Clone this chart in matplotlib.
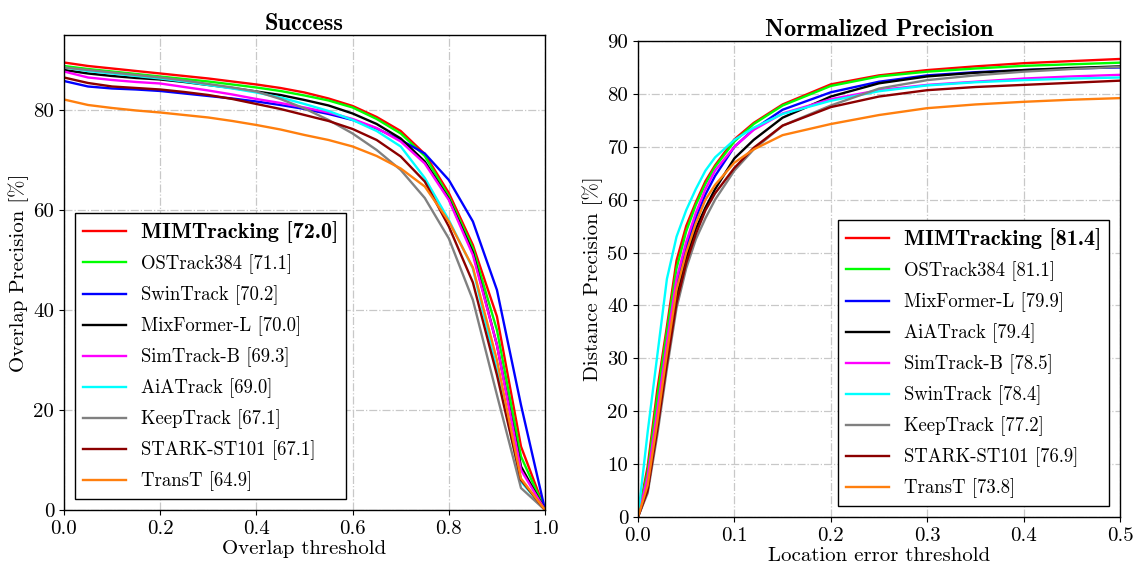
import matplotlib
matplotlib.use("Agg")
import matplotlib.pyplot as plt
import numpy as np

plt.rcParams['font.family'] = ['cmr10', 'DejaVu Serif']
plt.rcParams['axes.unicode_minus'] = False
plt.rcParams['mathtext.fontset'] = 'cm'

# ---- Success (overlap threshold) ----
thr = [0.0, 0.05, 0.1, 0.15, 0.2, 0.25, 0.3, 0.35, 0.4, 0.45, 0.5,
       0.55, 0.6, 0.65, 0.7, 0.75, 0.8, 0.85, 0.9, 0.95, 1.0]

suc_names = ['MIMTracking [72.0]', 'OSTrack384 [71.1]', 'SwinTrack [70.2]',
             'MixFormer-L [70.0]', 'SimTrack-B [69.3]', 'AiATrack [69.0]',
             'KeepTrack [67.1]', 'STARK-ST101 [67.1]', 'TransT [64.9]']
suc_colors = ['red', '#00ff00', 'blue', 'black', 'magenta', 'cyan',
              'gray', '#8b0000', '#ff7f0e']

suc_mim = [89.5, 88.8, 88.3, 87.8, 87.3, 86.8, 86.3, 85.7, 85.1, 84.4, 83.5,
           82.3, 80.8, 78.6, 75.8, 71.2, 63.4, 53.0, 38.7, 12.7, 0]
suc_ostrack = [88.8, 88.2, 87.7, 87.2, 86.7, 86.2, 85.7, 85.1, 84.5, 83.8, 82.9,
               81.9, 80.5, 78.2, 75.3, 70.8, 62.7, 52.3, 36.0, 10.7, 0]
suc_swin = [85.8, 84.7, 84.3, 84.1, 83.8, 83.3, 82.8, 82.3, 81.7, 81.0, 80.2,
            79.2, 78.0, 76.3, 74.0, 71.3, 66.0, 57.7, 44.0, 21.0, 0]
suc_mixformer = [88.0, 87.3, 86.8, 86.4, 86.1, 85.6, 85.0, 84.4, 83.7, 83.0, 82.0,
                 80.9, 79.3, 77.2, 74.3, 69.7, 62.2, 51.5, 33.0, 8.7, 0]
suc_simtrack = [87.7, 86.5, 86.0, 85.6, 85.3, 84.6, 83.9, 83.1, 82.2, 81.4, 80.5,
                79.5, 78.2, 76.4, 73.7, 69.3, 62.0, 51.0, 33.0, 8.0, 0]
suc_aia = [88.5, 87.8, 87.3, 86.8, 86.3, 85.7, 85.0, 84.3, 83.5, 82.5, 81.2,
           79.8, 78.0, 75.8, 72.7, 66.4, 58.0, 48.3, 28.0, 5.7, 0]
suc_keep = [88.5, 88.0, 87.5, 87.0, 86.5, 85.9, 85.2, 84.5, 83.7, 82.2, 80.3,
            78.0, 75.3, 72.0, 68.0, 62.4, 54.3, 42.0, 23.0, 4.4, 0]
suc_stark = [86.5, 85.4, 84.7, 84.4, 84.1, 83.6, 83.0, 82.2, 81.2, 80.2, 79.0,
             77.8, 76.2, 74.0, 70.7, 65.7, 56.7, 45.5, 27.0, 6.0, 0]
suc_transt = [82.1, 81.0, 80.4, 79.9, 79.5, 79.0, 78.5, 77.8, 77.0, 76.1, 75.0,
              74.0, 72.7, 70.8, 68.3, 64.7, 57.7, 48.5, 30.0, 6.3, 0]
suc_vals = [suc_mim, suc_ostrack, suc_swin, suc_mixformer, suc_simtrack,
            suc_aia, suc_keep, suc_stark, suc_transt]

# ---- Normalized precision (location error threshold) ----
err = [0.0, 0.01, 0.02, 0.03, 0.04, 0.05, 0.06, 0.07, 0.08, 0.1, 0.12,
       0.15, 0.2, 0.25, 0.3, 0.35, 0.4, 0.45, 0.5]

np_names = ['MIMTracking [81.4]', 'OSTrack384 [81.1]', 'MixFormer-L [79.9]',
            'AiATrack [79.4]', 'SimTrack-B [78.5]', 'SwinTrack [78.4]',
            'KeepTrack [77.2]', 'STARK-ST101 [76.9]', 'TransT [73.8]']
np_colors = ['red', '#00ff00', 'blue', 'black', 'magenta', 'cyan',
             'gray', '#8b0000', '#ff7f0e']

np_mim = [0, 9.5, 24.0, 36.0, 48.5, 55.0, 59.5, 63.5, 66.5, 71.4, 74.5,
          78.0, 81.8, 83.5, 84.5, 85.2, 85.8, 86.2, 86.6]
np_ostrack = [0, 8.5, 22.5, 35.0, 47.0, 54.0, 59.0, 63.0, 66.2, 71.0, 74.3,
              77.8, 81.5, 83.3, 84.2, 84.8, 85.3, 85.6, 85.9]
np_mixformer = [0, 7.0, 19.0, 32.5, 44.0, 51.0, 56.5, 61.0, 64.5, 70.0, 73.3,
                77.0, 80.3, 82.3, 83.5, 84.1, 84.5, 84.8, 85.0]
np_aia = [0, 5.0, 17.0, 30.0, 41.5, 49.0, 54.5, 58.5, 62.0, 67.8, 71.3,
          75.5, 79.5, 82.0, 83.3, 84.0, 84.5, 84.9, 85.2]
np_simtrack = [0, 7.5, 20.0, 33.0, 45.0, 52.0, 57.5, 62.0, 65.5, 70.0, 73.2,
               76.3, 79.0, 80.7, 81.7, 82.3, 82.9, 83.3, 83.6]
np_swin = [0, 16.0, 30.5, 45.0, 53.0, 58.0, 62.0, 65.5, 68.0, 71.3, 73.6,
           76.2, 78.7, 80.5, 81.6, 82.2, 82.6, 82.9, 83.1]
np_keep = [0, 4.5, 15.5, 28.0, 39.5, 47.0, 52.5, 56.5, 60.0, 65.5, 69.5,
           74.0, 77.8, 81.0, 82.6, 83.5, 84.2, 84.7, 85.1]
np_stark = [0, 5.0, 16.5, 29.0, 40.5, 48.0, 53.5, 58.0, 61.2, 66.0, 69.8,
            74.0, 77.5, 79.5, 80.7, 81.3, 81.7, 82.1, 82.5]
np_transt = [0, 6.0, 18.0, 31.0, 43.0, 50.0, 55.5, 60.0, 62.8, 67.0, 69.5,
             72.2, 74.3, 76.0, 77.3, 78.0, 78.5, 78.9, 79.2]
np_vals = [np_mim, np_ostrack, np_mixformer, np_aia, np_simtrack,
           np_swin, np_keep, np_stark, np_transt]

fig = plt.figure(figsize=(11.36, 5.67), dpi=100)
ax1 = fig.add_axes([0.0563, 0.1005, 0.4235, 0.8378])
ax2 = fig.add_axes([0.5616, 0.0882, 0.4243, 0.8395])

for name, col, v in zip(suc_names, suc_colors, suc_vals):
    ax1.plot(thr, v, color=col, lw=1.7, label=name)
for name, col, v in zip(np_names, np_colors, np_vals):
    ax2.plot(err, v, color=col, lw=1.7, label=name)

ax1.set_xlim(0, 1)
ax1.set_ylim(0, 95)
ax1.set_xticks([0.0, 0.2, 0.4, 0.6, 0.8, 1.0])
ax1.set_yticks([0, 20, 40, 60, 80])
ax1.set_xlabel('Overlap threshold', fontsize=15, labelpad=2)
ax1.set_ylabel('Overlap Precision [%]', fontsize=15, labelpad=3)
ax1.set_title('Success', fontsize=17.5, family='cmb10', pad=3)

ax2.set_xlim(0, 0.5)
ax2.set_ylim(0, 90)
ax2.set_xticks([0.0, 0.1, 0.2, 0.3, 0.4, 0.5])
ax2.set_yticks(range(0, 91, 10))
ax2.set_xlabel('Location error threshold', fontsize=15, labelpad=2)
ax2.set_ylabel('Distance Precision [%]', fontsize=15, labelpad=3)
ax2.set_title('Normalized Precision', fontsize=17.5, family='cmb10', pad=3)

for ax, loc in [(ax1, 'lower left'), (ax2, 'lower right')]:
    ax.grid(True, color='#c8c8c8', linestyle='-.', lw=0.9)
    ax.tick_params(labelsize=15)
    for s in ax.spines.values():
        s.set_linewidth(1.0)
    leg = ax.legend(loc=loc, fontsize=13.5, fancybox=False, framealpha=1,
                    edgecolor='black', handlelength=2.3, labelspacing=0.6,
                    borderaxespad=0.6)
    leg.get_frame().set_linewidth(1.0)
    leg.get_texts()[0].set_fontfamily('cmb10')
    leg.get_texts()[0].set_fontsize(16)

fig.savefig('out.png', dpi=100)
